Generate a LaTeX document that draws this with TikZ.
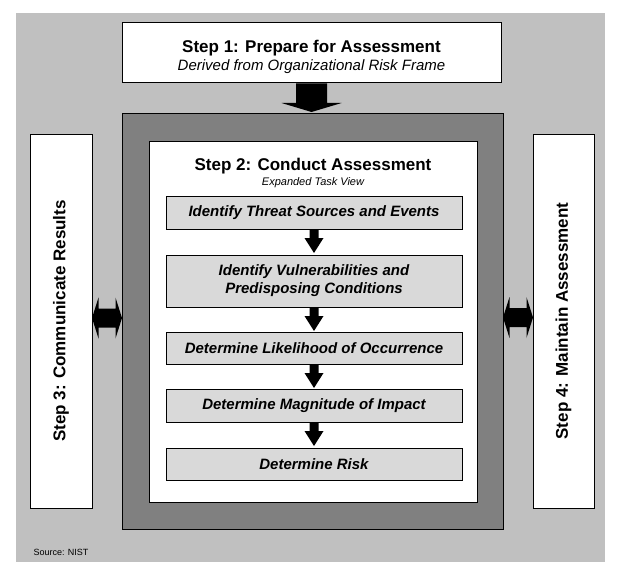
\documentclass[tikz,border=0pt]{standalone}
\usepackage{fontspec}
\setmainfont{Liberation Sans}
\usetikzlibrary{calc}
\definecolor{bggray}{HTML}{C0C0C0}
\definecolor{midgray}{HTML}{808080}
\definecolor{taskgray}{HTML}{D9D9D9}
\newcommand\taskarrow[2]{%
  \fill ($(#1.south)+(-4.5,0)$) -- ++(9,0) -- ++(0,-9) -- ++(5,0)
    -- ($(#1.south)+(0,-24)$) -- ++(-9.5,15) -- ++(5,0) -- cycle;}
\begin{document}
\begin{tikzpicture}[x=1pt,y=1pt,
  box/.style={draw=black, line width=0.9pt, inner sep=0pt, outer sep=0pt},
  whitebox/.style={box, fill=white},
  taskbox/.style={box, fill=taskgray, minimum width=296pt,
    font=\fontsize{15}{18}\selectfont\bfseries\itshape, align=center},
  titletext/.style={font=\fontsize{17}{20}\selectfont\bfseries, anchor=base},
  sidetext/.style={font=\fontsize{17}{20}\selectfont\bfseries, rotate=90}
]
\useasboundingbox (0,0) rectangle (620,-575);
\fill[bggray] (16,-13) rectangle (605,-562);

% Step 1
\node[whitebox, minimum width=379pt, minimum height=60pt] (s1) at (311.5,-52) {};
\node[titletext] (s1t) at (311.5,-53) {Step 1: Prepare for Assessment};
\node[font=\fontsize{15}{18}\selectfont\itshape, anchor=base] (s1s) at (311.5,-71) {Derived from Organizational Risk Frame};

% Step 2 frame
\node[box, fill=midgray, minimum width=381pt, minimum height=416pt] (dk) at (312.5,-321) {};
\node[whitebox, minimum width=328pt, minimum height=361pt] (in) at (313,-321.5) {};
\node[titletext] (s2t) at (313,-170) {Step 2: Conduct Assessment};
\node[font=\fontsize{11}{13}\selectfont\itshape, anchor=base] (s2s) at (313,-185.5) {Expanded Task View};

% tasks
\node[taskbox, minimum height=33pt] (t1) at (314,-212.5) {Identify Threat Sources and Events};
\node[taskbox, minimum height=52pt] (t2) at (314,-281) {Identify Vulnerabilities and\\Predisposing Conditions};
\node[taskbox, minimum height=32pt] (t3) at (314,-348) {Determine Likelihood of Occurrence};
\node[taskbox, minimum height=33pt] (t4) at (314,-405.5) {Determine Magnitude of Impact};
\node[taskbox, minimum height=32pt] (t5) at (314,-464) {Determine Risk};

\taskarrow{t1}{t2}
\taskarrow{t2}{t3}
\taskarrow{t3}{t4}
\taskarrow{t4}{t5}

% big arrow
\fill ($(s1.south)+(-15.5,-1.5)$) -- ++(31,0) -- ++(0,-19.5) -- ++(14.5,0)
  -- ($(s1.south)+(0,-30)$) -- ++(-30,9) -- ++(14.5,0) -- cycle;

% side steps
\node[whitebox, minimum width=62pt, minimum height=374pt] (s3) at (61,-321) {};
\node[sidetext] (s3t) at (61,-321) {Step 3: Communicate Results};
\node[whitebox, minimum width=61pt, minimum height=374pt] (s4) at (563.5,-321) {};
\node[sidetext] (s4t) at (563.5,-321) {Step 4: Maintain Assessment};

% double arrows
\fill ($(s3.east)+(0,3)$) -- ++(6.5,20.5) -- ++(0,-11) -- ++(17,0) -- ++(0,11)
  -- ($(dk.west)+(0,3)$) -- ++(-6.5,-20.5) -- ++(0,11) -- ++(-17,0) -- ++(0,-11) -- cycle;
\fill ($(dk.east)+(0,3.5)$) -- ++(6.5,20.5) -- ++(0,-11) -- ++(17,0) -- ++(0,11)
  -- ($(s4.west)+(0,3.5)$) -- ++(-6.5,-20.5) -- ++(0,11) -- ++(-17,0) -- ++(0,-11) -- cycle;

\node[font=\fontsize{9}{11}\selectfont, anchor=base west] (src) at (30,-555) {Source: NIST};
\end{tikzpicture}
\end{document}
